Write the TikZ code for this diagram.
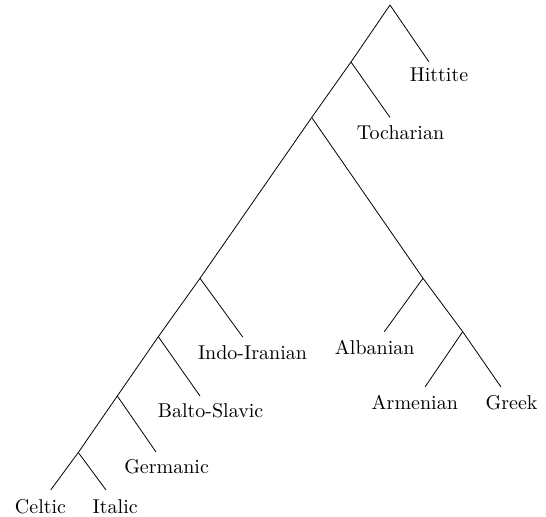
\documentclass[tikz,border=0pt]{standalone}
\begin{document}
\begin{tikzpicture}[x=0.5pt,y=-0.5pt,
  branch/.style={line width=0.4pt},
  lbl/.style={inner sep=0pt, outer sep=0pt, anchor=base}]
\useasboundingbox (0,0) rectangle (546,517);
% tree points
\coordinate (root) at (390,5);
\coordinate (hitE) at (429,62);
\coordinate (j1) at (351,62);
\coordinate (tocE) at (390,117.5);
\coordinate (j2) at (311.7,117.5);
\coordinate (jA) at (423,278.3);
\coordinate (albE) at (384.3,331.7);
\coordinate (jB) at (462.7,331.7);
\coordinate (armE) at (425,387);
\coordinate (greE) at (501,387);
\coordinate (jI) at (200,278.3);
\coordinate (indE) at (242.7,337);
\coordinate (jBS) at (158.3,336.7);
\coordinate (balE) at (200,396);
\coordinate (jG) at (117.3,396);
\coordinate (gerE) at (156,452);
\coordinate (jC) at (78.3,452.5);
\coordinate (celE) at (50.7,490);
\coordinate (itaE) at (106,490);
% labels
\node[lbl] (hit) at (439,81.7) {Hittite};
\node[lbl] (toc) at (400.5,139.3) {Tocharian};
\node[lbl] (ind) at (252.5,359.3) {Indo-Iranian};
\node[lbl] (bal) at (210.6,418) {Balto-Slavic};
\node[lbl] (ger) at (166.6,474) {Germanic};
\node[lbl] (cel) at (40.5,513.3) {Celtic};
\node[lbl] (ita) at (115.2,513.3) {Italic};
\node[lbl] (alb) at (374.7,355) {Albanian};
\node[lbl] (arm) at (414.8,410) {Armenian};
\node[lbl] (gre) at (511.6,410) {Greek};
% branches
\draw[branch] (root) -- (hitE);
\draw[branch] (root) -- (j1);
\draw[branch] (j1) -- (tocE);
\draw[branch] (j1) -- (j2);
\draw[branch] (j2) -- (jA);
\draw[branch] (jA) -- (albE);
\draw[branch] (jA) -- (jB);
\draw[branch] (jB) -- (armE);
\draw[branch] (jB) -- (greE);
\draw[branch] (j2) -- (jI);
\draw[branch] (jI) -- (indE);
\draw[branch] (jI) -- (jBS);
\draw[branch] (jBS) -- (balE);
\draw[branch] (jBS) -- (jG);
\draw[branch] (jG) -- (gerE);
\draw[branch] (jG) -- (jC);
\draw[branch] (jC) -- (celE);
\draw[branch] (jC) -- (itaE);
\end{tikzpicture}
\end{document}
